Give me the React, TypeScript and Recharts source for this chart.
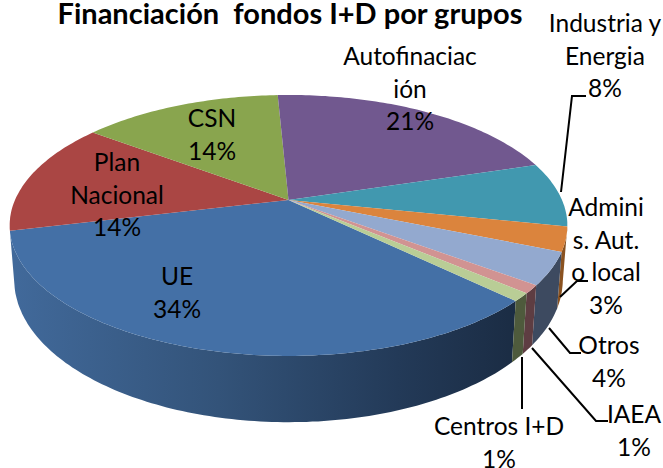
import { PieChart, Pie, Cell } from "recharts";

const CATEGORIES = ["UE", "Plan Nacional", "CSN", "Autofinaciación", "Industria y Energia", "Adminis. Aut. o local", "Otros", "IAEA", "Centros I+D"];
const VALUES = [34, 14, 14, 21, 8, 3, 4, 1, 1];
const TOP_COLORS = ["#4470a6", "#aa4644", "#89a54e", "#71588f", "#4198af", "#db843d", "#93a9cf", "#d19392", "#b9cd96"];
const WALL_COLORS = ["url(#ueWall)", "#6f2f2e", "#55662f", "#443557", "#265c6c", "#8a5220", "#3d4a60", "#5e3d42", "#4e5a3c"];

// text wrapped the way the chart wraps it, plus where each label block and leader sits
const LABEL_LINES = [["UE"], ["Plan", "Nacional"], ["CSN"], ["Autofinaciac", "ión"], ["Industria y", "Energia"], ["Admini", "s. Aut.", "o local"], ["Otros"], ["IAEA"], ["Centros I+D"]];
const LABEL_X = [177, 117, 212, 410, 605, 606, 609, 634, 499];
const LABEL_Y = [285, 171, 127, 65, 32, 216, 354, 423, 435];
const LEADERS = [
  "", "", "", "",
  "561,192 572,96 586,96",
  "560,297 577,281 588,281",
  "549,328 570,353 581,353",
  "532,348 596,421 608,421",
  "522,357 522,409",
];

const CX = 288.5;
const CY = 200;
const RADIUS = 273.5;
const FONT = "Lato, Carlito, sans-serif";

// 3D tilt: circle -> screen with a bit of perspective
const project = (theta: number, scale: number, squash: number, drop: number) => {
  const rad = (theta * Math.PI) / 180;
  const u = Math.sin(rad);
  const v = -Math.cos(rad);
  const w = 1 - 0.195 * v;
  return [CX + (scale * u) / w, CY + drop + (squash * v) / w];
};

const arc = (from: number, to: number, scale: number, squash: number, drop: number) => {
  const pts: number[][] = [];
  const steps = Math.max(2, Math.ceil(Math.abs(to - from)));
  for (let i = 0; i <= steps; i++) {
    pts.push(project(from + ((to - from) * i) / steps, scale, squash, drop));
  }
  return pts;
};

const toPath = (pts: number[][]) =>
  "M" + pts.map((p) => `${p[0].toFixed(1)},${p[1].toFixed(1)}`).join("L") + "Z";

const TopSlice = (props: any) => {
  const from = 90 - props.startAngle;
  const to = 90 - props.endAngle;
  const pts = [[CX, CY], ...arc(from, to, RADIUS, 125.5, 0)];
  return <path d={toPath(pts)} fill={props.fill} stroke="none" />;
};

// side wall, only on the part of the rim that faces the viewer
const WallSlice = (props: any) => {
  const wrap = 90 - props.startAngle >= 360 ? 360 : 0;
  const from = Math.max(90 - props.startAngle - wrap, 101.8);
  const to = Math.min(90 - props.endAngle - wrap, 256.5);
  if (to <= from) return <g />;
  const pts = [...arc(from, to, RADIUS, 125.5, 0), ...arc(to, from, 269, 137, 52)];
  return <path d={toPath(pts)} fill={props.fill} stroke="none" />;
};

const renderLabel = (props: any) => {
  const { index, percent } = props;
  const lines = [...LABEL_LINES[index], `${Math.round(percent * 100)}%`];
  return (
    <g key={index}>
      {LEADERS[index] && <polyline points={LEADERS[index]} fill="none" stroke="#000" strokeWidth={2} />}
      <text textAnchor="middle" fontFamily={FONT} fontSize={24.5} fill="#000">
        {lines.map((line, i) => (
          <tspan key={i} x={LABEL_X[index]} y={LABEL_Y[index] + i * 32.5}>
            {line}
          </tspan>
        ))}
      </text>
    </g>
  );
};

export default function App() {
  const data = CATEGORIES.map((name, i) => ({ name, value: VALUES[i] }));
  return (
    <div style={{ position: "absolute", left: 0, top: 0 }}>
      <PieChart width={663} height={468} margin={{ top: 0, right: 0, bottom: 0, left: 0 }}>
        <defs>
          <linearGradient id="ueWall" gradientUnits="userSpaceOnUse" x1="15" y1="0" x2="525" y2="0">
            <stop offset="0" stopColor="#41699a" />
            <stop offset="0.4" stopColor="#335379" />
            <stop offset="0.75" stopColor="#233a58" />
            <stop offset="1" stopColor="#1a2b42" />
          </linearGradient>
        </defs>
        <text x={290} y={24} textAnchor="middle" fontFamily={FONT} fontSize={29} fontWeight={700} fill="#000" xmlSpace="preserve">
          Financiación  fondos I+D por grupos
        </text>
        <Pie
          data={data}
          dataKey="value"
          cx={CX}
          cy={CY}
          outerRadius={RADIUS}
          startAngle={-44.1}
          endAngle={-404.1}
          stroke="none"
          shape={WallSlice}
          isAnimationActive={false}
        >
          {WALL_COLORS.map((c, i) => (
            <Cell key={i} fill={c} />
          ))}
        </Pie>
        <Pie
          data={data}
          dataKey="value"
          cx={CX}
          cy={CY}
          outerRadius={RADIUS}
          startAngle={-44.1}
          endAngle={-404.1}
          stroke="none"
          shape={TopSlice}
          label={renderLabel}
          labelLine={false}
          isAnimationActive={false}
        >
          {TOP_COLORS.map((c, i) => (
            <Cell key={i} fill={c} />
          ))}
        </Pie>
      </PieChart>
    </div>
  );
}
